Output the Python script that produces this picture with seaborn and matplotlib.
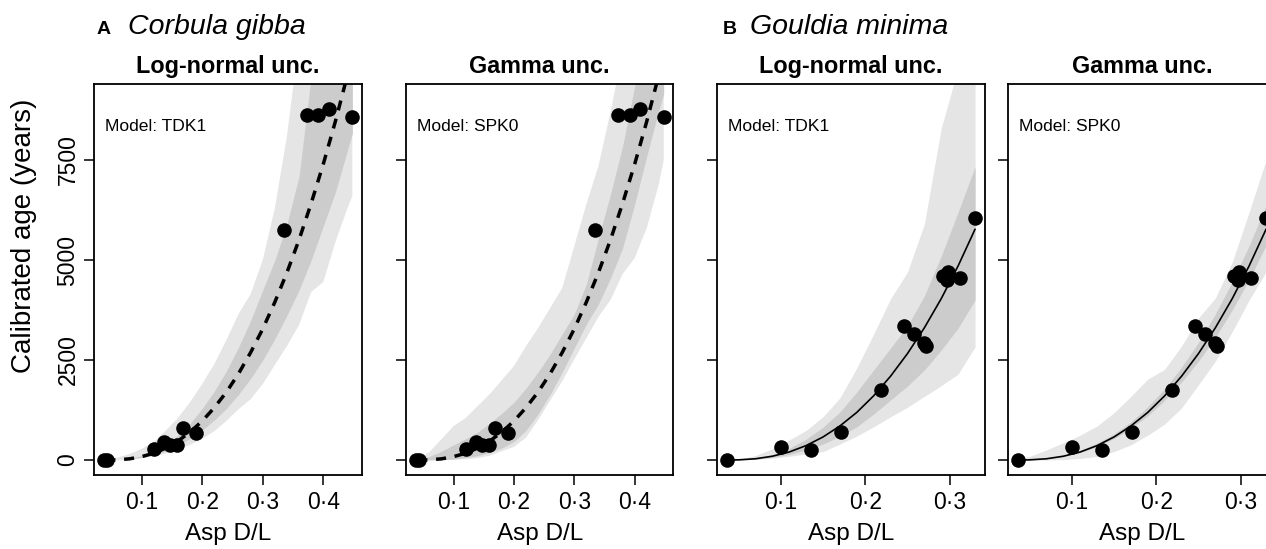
import matplotlib
matplotlib.use("Agg")
import matplotlib.pyplot as plt
import seaborn as sns

# ---------------- data ----------------
# Calibration samples (Asp D/L vs calibrated age)
corbula_dl = [0.037, 0.042, 0.120, 0.137, 0.147, 0.159, 0.168, 0.190, 0.335, 0.3725, 0.392, 0.409, 0.448]
corbula_age = [0, 10, 267, 442, 380, 375, 808, 683, 5742, 8633, 8633, 8783, 8583]

gouldia_dl = [0.0365, 0.1008, 0.1355, 0.171, 0.2191, 0.246, 0.2578, 0.270, 0.2725, 0.2921, 0.2968, 0.298, 0.3126, 0.3304]
gouldia_age = [0, 333, 250, 692, 1750, 3358, 3150, 2920, 2850, 4608, 4500, 4708, 4558, 6058]

# Fitted model curve and uncertainty envelopes, Corbula gibba
corbula_grid = [0.04, 0.06, 0.08, 0.10, 0.12, 0.14, 0.16, 0.18, 0.20, 0.22, 0.24,
                0.26, 0.28, 0.30, 0.32, 0.34, 0.36, 0.38, 0.40, 0.42, 0.44, 0.448]
corbula_fit = [0, 5, 30, 85, 170, 300, 475, 700, 975, 1310, 1700,
               2160, 2690, 3280, 3950, 4690, 5510, 6420, 7400, 8470, 9630, 10120]

# log-normal uncertainty
corbula_ln_outer_hi = [0, 60, 150, 280, 450, 740, 1050, 1450, 1900, 2400, 3000,
                       3650, 4150, 5000, 6300, 8100, 10500, 12500, 14000, 15800, 17500, 18200]
corbula_ln_inner_hi = [0, 7, 40, 110, 220, 390, 620, 910, 1290, 1720, 2230,
                       2820, 3490, 4250, 5000, 5900, 7100, 9600, 10200, 11400, 12800, 13400]
corbula_ln_inner_lo = [0, 4, 23, 65, 130, 230, 365, 540, 750, 1000, 1290,
                       1640, 2040, 2500, 3030, 3620, 4250, 5000, 5850, 6700, 7750, 8170]
corbula_ln_outer_lo = [0, 3, 15, 45, 95, 165, 260, 380, 530, 720, 980,
                       1270, 1520, 1900, 2380, 2850, 3380, 4200, 4450, 5450, 6300, 6600]

# gamma uncertainty
corbula_ga_outer_hi = [40, 200, 520, 850, 1050, 1350, 1650, 2000, 2350, 2850, 3300,
                       3800, 4300, 5350, 6400, 7350, 8700, 10200, 11500, 12800, 14000, 14500]
corbula_ga_inner_hi = [0, 90, 220, 380, 530, 700, 917, 1170, 1440, 1800, 2200,
                       2650, 3150, 3650, 4400, 5550, 6650, 7850, 9350, 10600, 11800, 12300]
corbula_ga_inner_lo = [0, 0, 5, 25, 60, 110, 190, 300, 460, 740, 1150,
                       1640, 2200, 2800, 3400, 3900, 4550, 5300, 6400, 7600, 8750, 9150]
corbula_ga_outer_lo = [0, 0, 0, 5, 20, 45, 110, 220, 330, 560, 1000,
                       1490, 1970, 2520, 3050, 3580, 4000, 4650, 5050, 5800, 6900, 7500]

# Fitted model curve and uncertainty envelopes, Gouldia minima
gouldia_grid = [0.037, 0.05, 0.07, 0.09, 0.11, 0.13, 0.15, 0.17,
                0.19, 0.21, 0.23, 0.25, 0.27, 0.29, 0.31, 0.33]
gouldia_fit = [0, 4, 31, 94, 200, 360, 575, 850,
               1190, 1605, 2095, 2660, 3305, 4035, 4855, 5770]

gouldia_ln_outer_hi = [0, 20, 110, 280, 500, 740, 1080, 1550,
                       2300, 3150, 4030, 4700, 5900, 8300, 9800, 11500]
gouldia_ln_inner_hi = [0, 6, 45, 135, 290, 520, 820, 1200,
                       1700, 2250, 2800, 3350, 4100, 5100, 6200, 7330]
gouldia_ln_inner_lo = [0, 3, 22, 66, 140, 250, 400, 590,
                       830, 1150, 1500, 1850, 2250, 2750, 3300, 4000]
gouldia_ln_outer_lo = [0, 2, 15, 45, 95, 150, 210, 400,
                       600, 830, 1080, 1320, 1590, 1860, 2150, 2830]

gouldia_ga_outer_hi = [30, 90, 250, 430, 620, 850, 1180, 1590,
                       2020, 2270, 2850, 3550, 4050, 4950, 6200, 7500]
gouldia_ga_inner_hi = [0, 10, 50, 120, 240, 420, 650, 950,
                       1330, 1780, 2320, 2940, 3650, 4460, 5360, 6370]
gouldia_ga_inner_lo = [0, 3, 28, 86, 185, 333, 533, 790,
                       1108, 1490, 1950, 2470, 3070, 3750, 4510, 5370]
gouldia_ga_outer_lo = [0, 0, 0, 10, 40, 90, 210, 380,
                       620, 900, 1300, 1880, 2470, 3210, 4000, 4700]

age_ticks = [0, 2500, 5000, 7500]
age_tick_labels = ["0", "2500", "5000", "7500"]
corbula_dl_ticks = [0.1, 0.2, 0.3, 0.4]
corbula_dl_labels = ["0\u00b71", "0\u00b72", "0\u00b73", "0\u00b74"]
gouldia_dl_ticks = [0.1, 0.2, 0.3]
gouldia_dl_labels = ["0\u00b71", "0\u00b72", "0\u00b73"]

# ---------------- style ----------------
sns.set_theme(style="white")
plt.rcParams["font.family"] = ["Liberation Sans", "DejaVu Sans"]
plt.rcParams["axes.edgecolor"] = "black"
plt.rcParams["xtick.color"] = "black"
plt.rcParams["ytick.color"] = "black"
plt.rcParams["text.color"] = "black"
plt.rcParams["axes.labelcolor"] = "black"

LIGHT = "#e5e5e5"
DARK = "#cccccc"

W, H = 1266, 549
fig = plt.figure(figsize=(W / 100, H / 100), dpi=100)

AX_TOP, AX_BOT = 84.0, 474.7


def px_rect(left, right):
    return [left / W, 1 - AX_BOT / H, (right - left) / W, (AX_BOT - AX_TOP) / H]


panels = [
    dict(rect=px_rect(94, 362), title="Log-normal unc.", model="Model: TDK1",
         dl=corbula_dl, age=corbula_age, grid=corbula_grid, fit=corbula_fit,
         bands=(corbula_ln_outer_lo, corbula_ln_outer_hi, corbula_ln_inner_lo, corbula_ln_inner_hi),
         dashed=True, xlim=(0.0212, 0.4639), xt=corbula_dl_ticks, xtl=corbula_dl_labels, ylab=True),
    dict(rect=px_rect(406, 673.3), title="Gamma unc.", model="Model: SPK0",
         dl=corbula_dl, age=corbula_age, grid=corbula_grid, fit=corbula_fit,
         bands=(corbula_ga_outer_lo, corbula_ga_outer_hi, corbula_ga_inner_lo, corbula_ga_inner_hi),
         dashed=True, xlim=(0.0212, 0.4639), xt=corbula_dl_ticks, xtl=corbula_dl_labels, ylab=False),
    dict(rect=px_rect(717.3, 984.7), title="Log-normal unc.", model="Model: TDK1",
         dl=gouldia_dl, age=gouldia_age, grid=gouldia_grid, fit=gouldia_fit,
         bands=(gouldia_ln_outer_lo, gouldia_ln_outer_hi, gouldia_ln_inner_lo, gouldia_ln_inner_hi),
         dashed=False, xlim=(0.0250, 0.3414), xt=gouldia_dl_ticks, xtl=gouldia_dl_labels, ylab=False),
    dict(rect=px_rect(1008.3, 1275.7), title="Gamma unc.", model="Model: SPK0",
         dl=gouldia_dl, age=gouldia_age, grid=gouldia_grid, fit=gouldia_fit,
         bands=(gouldia_ga_outer_lo, gouldia_ga_outer_hi, gouldia_ga_inner_lo, gouldia_ga_inner_hi),
         dashed=False, xlim=(0.0250, 0.3414), xt=gouldia_dl_ticks, xtl=gouldia_dl_labels, ylab=False),
]

for p in panels:
    ax = fig.add_axes(p["rect"])
    olo, ohi, ilo, ihi = p["bands"]
    ax.fill_between(p["grid"], olo, ohi, color=LIGHT, linewidth=0, zorder=1)
    ax.fill_between(p["grid"], ilo, ihi, color=DARK, linewidth=0, zorder=2)

    if p["dashed"]:
        sns.lineplot(x=p["grid"], y=p["fit"], ax=ax, color="black", linewidth=2.5,
                     linestyle=(0, (2.9, 2.5)), sort=False, zorder=3)
    else:
        sns.lineplot(x=p["grid"], y=p["fit"], ax=ax, color="black", linewidth=1.2,
                     sort=False, zorder=3)

    sns.scatterplot(x=p["dl"], y=p["age"], ax=ax, color="black", s=110,
                    linewidth=0, zorder=4, legend=False)

    ax.set_xlim(*p["xlim"])
    ax.set_ylim(-367, 9400)
    ax.set_xticks(p["xt"])
    ax.set_xticklabels(p["xtl"])
    ax.set_yticks(age_ticks)
    if p["ylab"]:
        ax.set_yticklabels(age_tick_labels, rotation=90, va="center")
    else:
        ax.set_yticklabels([])
    ax.tick_params(axis="both", direction="out", length=7, width=1.1,
                   labelsize=16.5, bottom=True, left=True)
    ax.tick_params(axis="x", pad=5.0)
    ax.tick_params(axis="y", pad=3.5)
    for s in ax.spines.values():
        s.set_visible(True)
        s.set_color("black")
        s.set_linewidth(1.3)
    ax.grid(False)
    ax.set_xlabel("Asp D/L", fontsize=17.5, labelpad=6.0)
    ax.set_ylabel("")
    ax.set_title(p["title"], fontsize=16.8, fontweight="bold", pad=8.2)
    ax.text(11 / 267.4, 1 - 46.7 / 390.7, p["model"], transform=ax.transAxes,
            fontsize=12.6, ha="left", va="baseline")

# y-axis label
fig.text(31.5 / W, 1 - 236 / H, "Calibrated age (years)", rotation=90,
         rotation_mode="anchor", ha="center", va="baseline", fontsize=20)

# species headings
fig.text(97 / W, 1 - 33.5 / H, "A", fontsize=14, fontweight="bold", va="baseline")
fig.text(128 / W, 1 - 34 / H, "Corbula gibba", fontsize=20.5, fontstyle="italic", va="baseline")
fig.text(723 / W, 1 - 33.5 / H, "B", fontsize=14, fontweight="bold", va="baseline")
fig.text(750 / W, 1 - 34.5 / H, "Gouldia minima", fontsize=20.5, fontstyle="italic", va="baseline")

fig.savefig("out.png", dpi=100)
